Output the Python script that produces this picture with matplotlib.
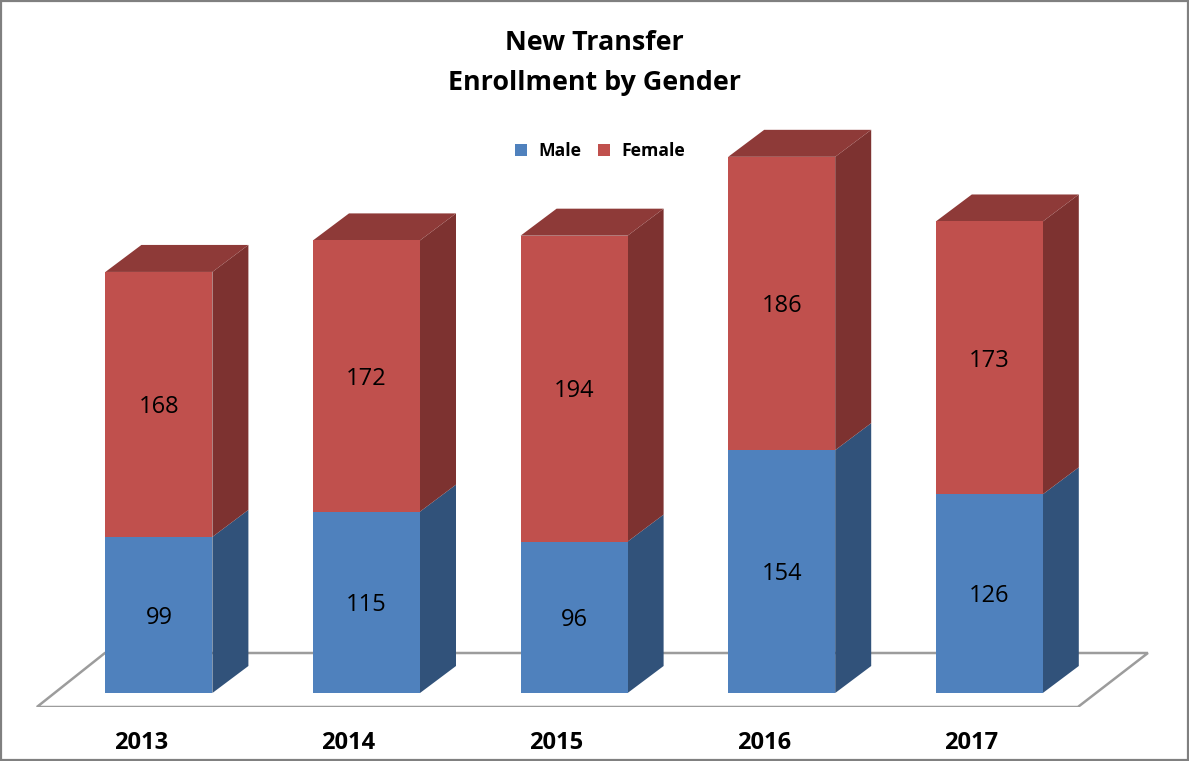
import matplotlib
matplotlib.use("Agg")
import matplotlib.pyplot as plt
from matplotlib.patches import Polygon, Rectangle

years = ["2013", "2014", "2015", "2016", "2017"]
male = [99, 115, 96, 154, 126]
female = [168, 172, 194, 186, 173]

W, H = 1189, 761
# pixels per unit on each axis
px_x = 207.6
px_y = 1.577
x0_px = 158.9
base_px = 693
floor_px = 707

plt.rcParams['font.family'] = ['Open Sans', 'DejaVu Sans']

fig = plt.figure(figsize=(W / 100, H / 100), dpi=100)
ax = fig.add_axes([0, (H - floor_px) / H, 1, floor_px / H])
ax.set_xlim(-x0_px / px_x, (W - x0_px) / px_x)
ax.set_ylim(-(floor_px - base_px) / px_y, base_px / px_y)
for s in ax.spines.values():
    s.set_visible(False)
ax.set_yticks([])
# labels sit left of the bar centres, under the floor front edge
ax.set_xticks([i - 18 / px_x for i in range(len(years))])
ax.set_xticklabels(years, fontsize=17, fontweight='bold', color='black')
ax.tick_params(axis='x', length=0, pad=17)

# 3d depth, in data units
dx = 36 / px_x
dy = 27 / px_y
width = 107 / px_x

BLUE, BLUE_SIDE = '#4F81BD', '#31527A'
RED, RED_SIDE, RED_TOP = '#C0504D', '#7D3230', '#8E3A38'

# floor
fl = floor_px - base_px
floor = Polygon([(-122 / px_x, -fl / px_y), (919 / px_x, -fl / px_y),
                 (989 / px_x, 40 / px_y), (-54 / px_x, 40 / px_y)],
                closed=True, facecolor='white', edgecolor='#9C9C9C', lw=1.8, zorder=1)
ax.add_patch(floor)


def side(x, y0, y1, color, z):
    r = x + width / 2
    ax.add_patch(Polygon([(r, y0), (r + dx, y0 + dy), (r + dx, y1 + dy), (r, y1)],
                         closed=True, facecolor=color, edgecolor='none', zorder=z))


def value_label(x, y, v):
    ax.annotate(str(v), (x, y), xytext=(0, -2), textcoords='offset points', ha='center', va='center',
                fontsize=17, color='black', zorder=5)


for i in range(len(years)):
    m, f = male[i], female[i]
    side(i, 0, m, BLUE_SIDE, 3)
    side(i, m, m + f, RED_SIDE, 3)
    l = i - width / 2
    t = m + f
    ax.add_patch(Polygon([(l, t), (l + dx, t + dy), (l + width + dx, t + dy), (l + width, t)],
                         closed=True, facecolor=RED_TOP, edgecolor='none', zorder=3))
    value_label(i, m / 2, m)
    value_label(i, m + f / 2, f)

b1 = ax.bar(range(len(years)), male, width=width, color=BLUE, zorder=4, label='Male')
b2 = ax.bar(range(len(years)), female, width=width, bottom=male, color=RED, zorder=4, label='Female')

leg = fig.legend(handles=[b1, b2], loc='center', bbox_to_anchor=(600 / W, 1 - 151 / H), ncol=2,
                 frameon=False, prop={'size': 12.6, 'weight': 'bold'}, handlelength=0.72,
                 handleheight=0.72, handletextpad=0.65, columnspacing=0.9)

fig.text(594 / W, 1 - 43 / H, "New Transfer", ha='center', va='center', fontsize=19.4, fontweight='bold')
fig.text(594 / W, 1 - 83 / H, "Enrollment by Gender", ha='center', va='center', fontsize=19.4, fontweight='bold')

fig.add_artist(Rectangle((0.5 / W, 1.5 / H), (W - 2) / W, (H - 2.5) / H, transform=fig.transFigure,
                         fill=False, edgecolor='#808080', lw=1.6))

fig.savefig("out.png", dpi=100)
